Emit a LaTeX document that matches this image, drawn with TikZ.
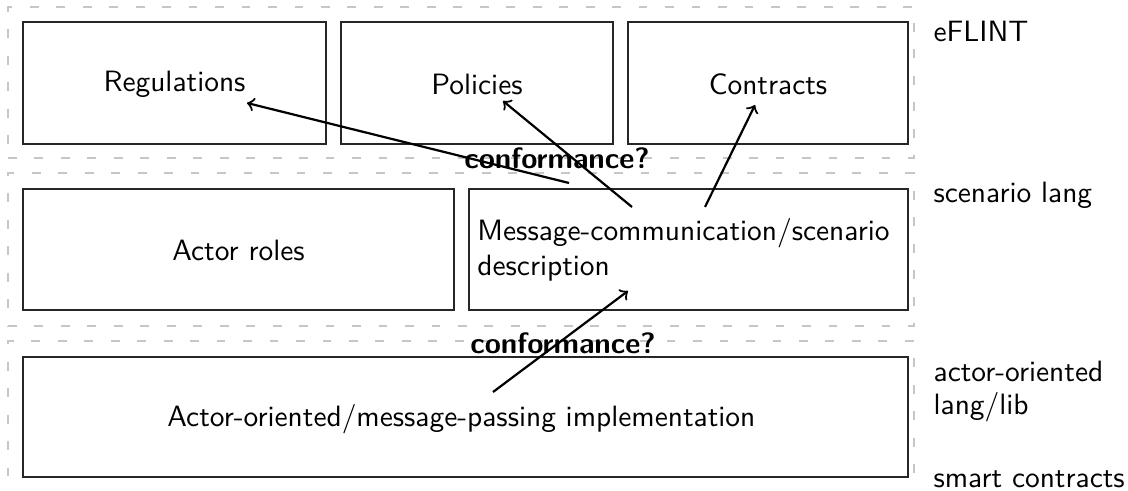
\documentclass[tikz,border=0pt]{standalone}
\usetikzlibrary{fit}
\begin{document}
\begin{tikzpicture}[x=0.34pt,y=-0.34pt,
  font=\sffamily,
  layer/.style={draw=gray!45, line width=0.5pt, loosely dashed, inner sep=0pt},
  box/.style={draw=black!85, line width=0.45pt, inner sep=0pt},
  txt/.style={inner sep=0pt, align=left},
  conn/.style={draw=black, line width=0.75pt, ->},
  tag/.style={font=\sffamily\bfseries, inner sep=0pt},
  side/.style={anchor=base west, inner sep=0pt, align=left}]
  \useasboundingbox (0,0) rectangle (1128,491);
  % layer frames
  \begin{scope}
    \clip (0,0) rectangle (1128,491);
    \node[layer, fit={(8,7) (914,158)}] (L1) {};
    \node[layer, fit={(8,173) (914,326)}] (L2) {};
    \node[layer, fit={(8,341) (914,520)}] (L3) {};
  \end{scope}
  % eFLINT layer
  \node[box, fit={(23,22) (326,144)}] (reg) {};
  \node[box, fit={(341,22) (613,144)}] (pol) {};
  \node[box, fit={(628,22) (908,144)}] (con) {};
  % scenario layer
  \node[box, fit={(23,189) (454,310)}] (roles) {};
  \node[box, fit={(469,189) (908,310)}] (msg) {};
  % implementation layer
  \node[box, fit={(23,357) (908,477)}] (impl) {};
  % box texts
  \node[txt] (regT) at ([yshift=-0.4pt]reg.center) {Regulations};
  \node[txt] (polT) at ([yshift=-0.4pt]pol.center) {Policies};
  \node[txt] (conT) at ([yshift=-0.4pt]con.center) {Contracts};
  \node[txt] (rolesT) at ([yshift=-0.4pt]roles.center) {Actor roles};
  \node[txt] (msgT) at ([xshift=-1.7pt]msg.center) {Message-communication/scenario\\description};
  \node[txt] (implT) at ([xshift=-1.4pt,yshift=-0.6pt]impl.center) {Actor-oriented/message-passing implementation};
  % labels
  \node[tag] (c1) at (557,158) {conformance?};
  \node[tag] (c2) at (563,343) {conformance?};
  \node[side] (s1) at (933,42) {eFLINT};
  \node[side] (s2) at (933,203) {scenario lang};
  \node[side] (s3) at (933,382) {actor-oriented};
  \node[side] (s4) at (933,415) {lang/lib};
  \node[side] (s5) at (933,488) {smart contracts};
  % connector ends
  \coordinate (mr) at (569,183);
  \coordinate (mp) at (632,207);
  \coordinate (mc) at (705,207);
  \coordinate (ri) at (247,103);
  \coordinate (pi) at (503,101);
  \coordinate (ci) at (755,105);
  \coordinate (ms) at (628,291);
  \coordinate (ib) at (493,392);
  \draw[conn] (mr) -- (ri);
  \draw[conn] (mp) -- (pi);
  \draw[conn] (mc) -- (ci);
  \draw[conn] (ib) -- (ms);
\end{tikzpicture}
\end{document}
